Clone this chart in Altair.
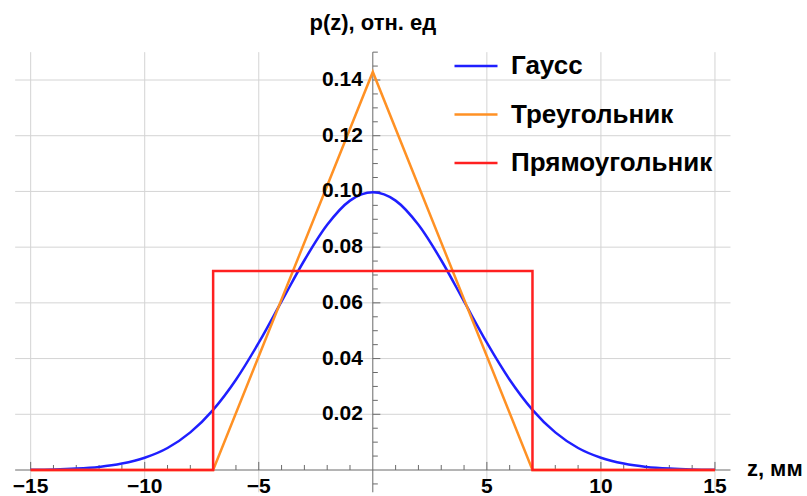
import altair as alt
import pandas as pd

# ---- data ----
names = ["Гаусс", "Треугольник", "Прямоугольник"]
colors = ["#1f1fff", "#ff9124", "#ff2020"]

gauss_z = list(range(-15, 16))
gauss_p = [0.0001, 0.0002, 0.0005, 0.0011, 0.0023, 0.0044, 0.0079, 0.0135,
           0.0216, 0.0324, 0.0457, 0.0605, 0.0753, 0.0880, 0.0967, 0.0997,
           0.0967, 0.0880, 0.0753, 0.0605, 0.0457, 0.0324, 0.0216, 0.0135,
           0.0079, 0.0044, 0.0023, 0.0011, 0.0005, 0.0002, 0.0001]

tri_z = [-15, -7, 0, 7, 15]
tri_p = [0.0, 0.0, 0.1429, 0.0, 0.0]

rect_z = [-15, -7, -7, 7, 7, 15]
rect_p = [0.0, 0.0, 0.0714, 0.0714, 0.0, 0.0]

x_major = [-15, -10, -5, 5, 10, 15]
x_labels = ["\u221215", "\u221210", "\u22125", "5", "10", "15"]
x_minor = [v for v in range(-15, 16) if v % 5 != 0]

y_major = [0.02, 0.04, 0.06, 0.08, 0.10, 0.12, 0.14]
y_labels = ["0.02", "0.04", "0.06", "0.08", "0.10", "0.12", "0.14"]
y_minor = [round(-0.005 + 0.005 * i, 3) for i in range(32)]
y_minor = [v for v in y_minor if abs(round(v / 0.02) * 0.02 - v) > 1e-9]

y_title = "p(z), отн. ед"
x_title = "z, мм"

FONT = "Liberation Sans"

xs = alt.Scale(domain=[-16.344, 19.035], nice=False, zero=False)
ys = alt.Scale(domain=[-0.009333, 0.168719], nice=False, zero=False)

def X(field=None, **kw):
    if field is None:
        return alt.X(scale=xs, axis=None, **kw)
    return alt.X(field, type="quantitative", scale=xs, axis=None, **kw)

def Y(field=None, **kw):
    if field is None:
        return alt.Y(scale=ys, axis=None, **kw)
    return alt.Y(field, type="quantitative", scale=ys, axis=None, **kw)

GRID = "#d4d4d4"
AXIS = "#6a6a6a"

# grid
vgrid = alt.Chart(pd.DataFrame({"z": x_major})).mark_rule(color=GRID, strokeWidth=1).encode(
    x=X("z"), y=Y(datum=-0.008), y2=alt.Y2(datum=0.15))
hgrid = alt.Chart(pd.DataFrame({"p": y_major})).mark_rule(color=GRID, strokeWidth=1).encode(
    y=Y("p"), x=X(datum=-15.68), x2=alt.X2(datum=15.68))

# axis lines
xaxis = alt.Chart(pd.DataFrame({"p": [0.0]})).mark_rule(color=AXIS, strokeWidth=1).encode(
    y=Y("p"), x=X(datum=-15.68), x2=alt.X2(datum=15.68))
yaxis = alt.Chart(pd.DataFrame({"z": [0.0]})).mark_rule(color=AXIS, strokeWidth=1).encode(
    x=X("z"), y=Y(datum=-0.008), y2=alt.Y2(datum=0.15))

# ticks
xtick_major = alt.Chart(pd.DataFrame({"z": x_major})).mark_rule(color=AXIS, strokeWidth=1).encode(
    x=X("z"), y=Y(datum=0.0), y2=alt.Y2(datum=0.0029))
xtick_minor = alt.Chart(pd.DataFrame({"z": x_minor})).mark_rule(color=AXIS, strokeWidth=1).encode(
    x=X("z"), y=Y(datum=0.0), y2=alt.Y2(datum=0.0018))
ytick_major = alt.Chart(pd.DataFrame({"p": y_major})).mark_rule(color=AXIS, strokeWidth=1).encode(
    y=Y("p"), x=X(datum=0.0), x2=alt.X2(datum=0.33))
ytick_minor = alt.Chart(pd.DataFrame({"p": y_minor})).mark_rule(color=AXIS, strokeWidth=1).encode(
    y=Y("p"), x=X(datum=0.0), x2=alt.X2(datum=0.22))

# tick labels
xlab = alt.Chart(pd.DataFrame({"z": x_major, "t": x_labels})).mark_text(
    font=FONT, fontSize=21, fontWeight="bold", color="black", align="center",
    baseline="middle", dy=17).encode(x=X("z"), y=Y(datum=0.0), text="t:N")
ylab = alt.Chart(pd.DataFrame({"p": y_major, "t": y_labels})).mark_text(
    font=FONT, fontSize=21, fontWeight="bold", color="black", align="right",
    baseline="middle", dx=-10).encode(y=Y("p"), x=X(datum=0.0), text="t:N")

# axis titles
ytitle = alt.Chart(pd.DataFrame({"t": [y_title]})).mark_text(
    font=FONT, fontSize=22, fontWeight="bold", color="black", align="center",
    baseline="alphabetic").encode(x=X(datum=0.0), y=Y(datum=0.158), text="t:N")
xtitle = alt.Chart(pd.DataFrame({"t": [x_title]})).mark_text(
    font=FONT, fontSize=22, fontWeight="bold", color="black", align="left",
    baseline="alphabetic").encode(x=X(datum=16.4), y=Y(datum=-0.00215), text="t:N")

# series
legend = alt.Legend(orient="none", legendX=453, legendY=43, title=None,
                    symbolType="stroke", symbolSize=1849, symbolStrokeWidth=2.5,
                    labelFont=FONT, labelFontSize=26, labelFontWeight="bold",
                    labelColor="black", labelOffset=12, rowPadding=12.5, padding=0,
                    labelLimit=500)
cscale = alt.Scale(domain=names, range=colors)

gdf = pd.DataFrame({"z": gauss_z, "p": gauss_p, "s": names[0], "i": range(len(gauss_z))})
tdf = pd.DataFrame({"z": tri_z, "p": tri_p, "s": names[1], "i": range(len(tri_z))})
rdf = pd.DataFrame({"z": rect_z, "p": rect_p, "s": names[2], "i": range(len(rect_z))})

def series(df, interp):
    return alt.Chart(df).mark_line(strokeWidth=2.5, interpolate=interp).encode(
        x=X("z"), y=Y("p"), order=alt.Order("i:Q"),
        color=alt.Color("s:N", scale=cscale, legend=legend))

gline = series(gdf, "monotone")
tline = series(tdf, "linear")
rline = series(rdf, "linear")

chart = alt.layer(
    vgrid, hgrid, xaxis, yaxis, xtick_major, xtick_minor, ytick_major, ytick_minor,
    gline, tline, rline, xlab, ylab, ytitle, xtitle
).properties(
    width=807, height=496, padding=0, autosize=alt.AutoSizeParams(type="none"),
    background="white"
).configure_view(stroke=None)

chart.save("out.html", embed_options={"renderer": "svg", "actions": False})
